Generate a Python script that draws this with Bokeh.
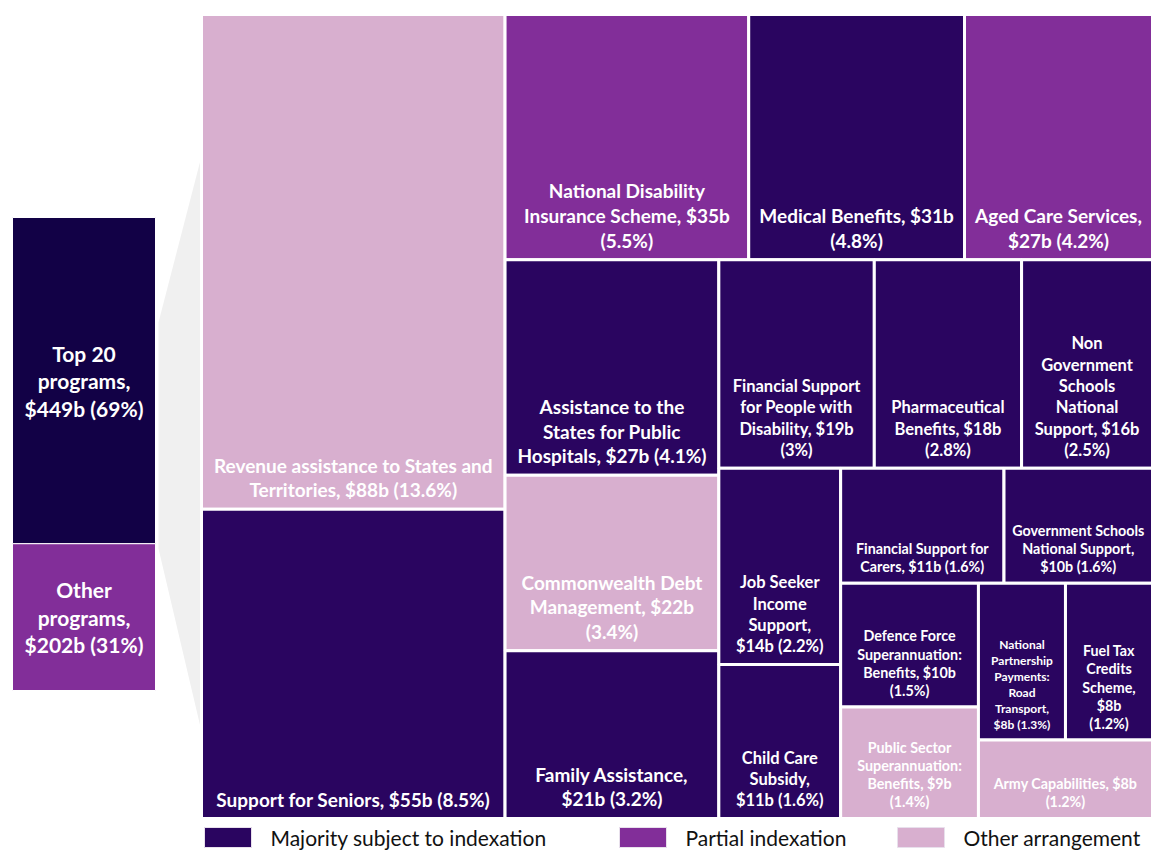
import textwrap
from bokeh.plotting import figure
from bokeh.models import Range1d, ColumnDataSource
from bokeh.embed import file_html
from bokeh.resources import INLINE
from bokeh.core.properties import value

# ---------------- data ----------------
programs = [
    "Revenue assistance to States and Territories",
    "Support for Seniors",
    "National Disability Insurance Scheme",
    "Medical Benefits",
    "Aged Care Services",
    "Assistance to the States for Public Hospitals",
    "Commonwealth Debt Management",
    "Family Assistance",
    "Financial Support for People with Disability",
    "Pharmaceutical Benefits",
    "Non Government Schools National Support",
    "Job Seeker Income Support",
    "Child Care Subsidy",
    "Financial Support for Carers",
    "Government Schools National Support",
    "Defence Force Superannuation: Benefits",
    "Public Sector Superannuation: Benefits",
    "National Partnership Payments: Road Transport",
    "Fuel Tax Credits Scheme",
    "Army Capabilities",
]
spend_bn = [88, 55, 35, 31, 27, 27, 22, 21, 19, 18, 16, 14, 11, 11, 10, 10, 9, 8, 8, 8]
share_pct = [13.6, 8.5, 5.5, 4.8, 4.2, 4.1, 3.4, 3.2, 3.0, 2.8, 2.5, 2.2, 1.6, 1.6, 1.6, 1.5, 1.4, 1.3, 1.2, 1.2]
MAJ, PAR, OTH = "Majority subject to indexation", "Partial indexation", "Other arrangement"
indexation = [OTH, MAJ, PAR, MAJ, PAR, MAJ, OTH, MAJ, MAJ, MAJ,
              MAJ, MAJ, MAJ, MAJ, MAJ, MAJ, OTH, MAJ, MAJ, OTH]
classes = [MAJ, PAR, OTH]

summary_groups = ["Top 20 programs", "Other programs"]
summary_bn = [449, 202]
summary_pct = [69, 31]

# ---------------- styles ----------------
class_colors = {MAJ: "#2A0560", PAR: "#822E99", OTH: "#D8AFCF"}
summary_colors = ["#120146", "#822E99"]
row_groups = [2, 3, 3, 3, 2, 2, 2, 2, 1]          # squarified row breaks
label_wrap = [32, 40, 22, 22, 20, 22, 20, 20, 17, 15, 13, 12, 12, 22, 18, 15, 15, 11, 8, 22]
L, M, S, XS = 19, 16.5, 14.3, 12
label_px = [L, L, L, L, L, L, L, L, M, M, M, M, M, S, S, S, S, XS, S, S]
FONT = "Lato"

# page-pixel coordinates used as data coordinates
PW, PH = 1152, 852
TM = (201, 14, 1152, 818)          # treemap box
BAR = (12, 217, 155, 690)          # left summary bar


def squarify_rows(vals, groups, x0, y0, x1, y1):
    rects = []
    i = 0
    remaining = float(sum(vals))
    for g in groups:
        chunk = vals[i:i + g]
        s = float(sum(chunk))
        w, h = x1 - x0, y1 - y0
        if w >= h:
            cw = w * s / remaining
            yy = y0
            for v in chunk:
                hh = h * v / s
                rects.append((x0, yy, x0 + cw, yy + hh))
                yy += hh
            x0 += cw
        else:
            rh = h * s / remaining
            xx = x0
            for v in chunk:
                ww = w * v / s
                rects.append((xx, y0, xx + ww, y0 + rh))
                xx += ww
            y0 += rh
        remaining -= s
        i += g
    return rects


def fmt_pct(p):
    return f"{p:g}%"


rects = squarify_rows(spend_bn, row_groups, *TM)

p = figure(width=PW, height=PH, output_backend="svg", toolbar_location=None,
           x_range=Range1d(0, PW), y_range=Range1d(PH, 0),
           x_axis_location=None, y_axis_location=None, min_border=0,
           outline_line_color=None, background_fill_color="white")
p.grid.visible = False

# grey connector
p.patch([TM[0] + 1, BAR[2] + 3, BAR[2] + 3, TM[0] + 1], [152, 322, 548, 735],
        fill_color="#F0F0F0", line_color=None)

# summary bar
tot = sum(summary_bn)
ys = [BAR[1]]
for v in summary_bn:
    ys.append(ys[-1] + (BAR[3] - BAR[1]) * v / tot)
sb = ColumnDataSource(dict(
    left=[BAR[0]] * 2, right=[BAR[2]] * 2, top=ys[:-1], bottom=ys[1:],
    color=summary_colors,
    x=[(BAR[0] + BAR[2]) / 2] * 2,
    y=[(ys[k] + ys[k + 1]) / 2 for k in range(2)],
    label=["\n".join(textwrap.wrap(f"{g}, ${b}b ({c}%)", 14))
           for g, b, c in zip(summary_groups, summary_bn, summary_pct)],
))
p.quad(left="left", right="right", top="top", bottom="bottom", source=sb,
       fill_color="color", line_color="white", line_width=1)
p.text(x="x", y="y", text="label", source=sb, text_color="white",
       text_font=value(FONT), text_font_style="bold", text_font_size="21px",
       text_align="center", text_baseline="middle", text_line_height=1.1)

# treemap
labels = ["\n".join(textwrap.wrap(f"{n}, ${v}b ({fmt_pct(c)})", w))
          for n, v, c, w in zip(programs, spend_bn, share_pct, label_wrap)]
ts = ColumnDataSource(dict(
    left=[r[0] for r in rects], top=[r[1] for r in rects],
    right=[r[2] for r in rects], bottom=[r[3] for r in rects],
    color=[class_colors[c] for c in indexation],
    x=[(r[0] + r[2]) / 2 for r in rects],
    y=[r[3] - 8 for r in rects],
    label=labels,
    size=[f"{s}px" for s in label_px],
))
p.quad(left="left", right="right", top="top", bottom="bottom", source=ts,
       fill_color="color", line_color="white", line_width=3)
p.text(x="x", y="y", text="label", source=ts, text_color="white",
       text_font=value(FONT), text_font_style="bold", text_font_size="size",
       text_align="center", text_baseline="bottom", text_line_height=1.07)

# legend
leg_x = [204, 619, 897]
leg_y = 837
ls = ColumnDataSource(dict(
    left=leg_x, right=[x + 47 for x in leg_x],
    top=[leg_y - 10] * 3, bottom=[leg_y + 10] * 3,
    color=[class_colors[c] for c in classes],
    tx=[x + 66 for x in leg_x], ty=[leg_y] * 3, label=classes,
))
p.quad(left="left", right="right", top="top", bottom="bottom", source=ls,
       fill_color="color", line_color="#E8E0EC", line_width=1)
p.text(x="tx", y="ty", text="label", source=ls, text_color="#111111",
       text_font=value(FONT), text_font_size="21px",
       text_align="left", text_baseline="middle")

open("out.html", "w").write(file_html(p, INLINE))
